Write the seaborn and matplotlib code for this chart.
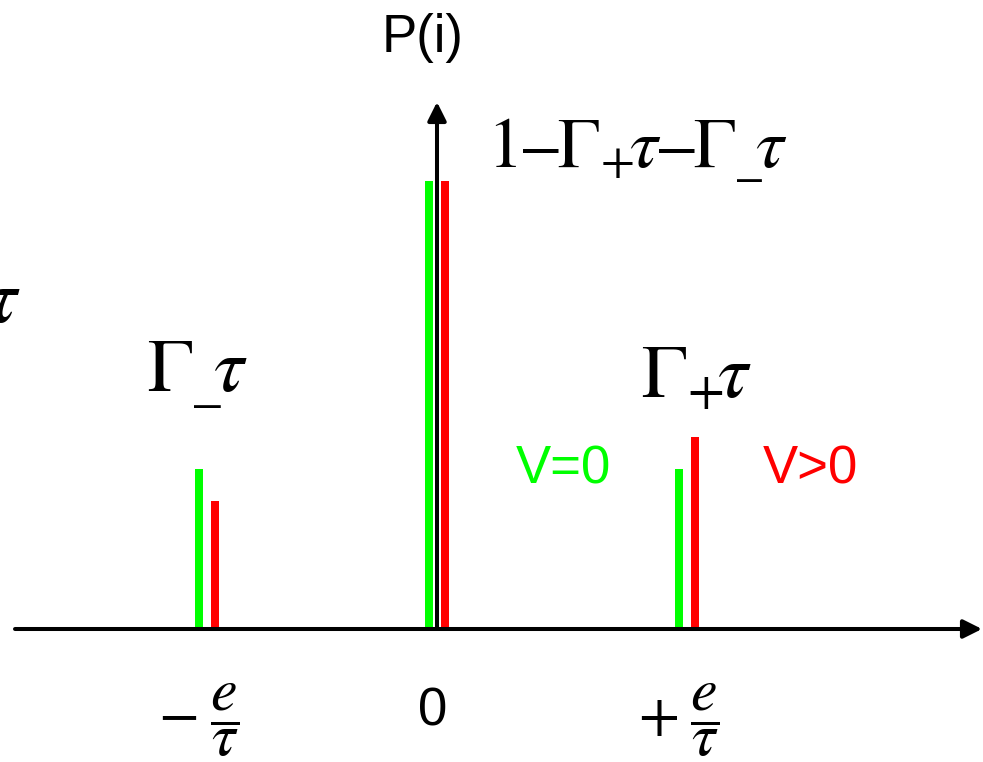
import matplotlib
matplotlib.use("Agg")
import matplotlib.pyplot as plt
import pandas as pd
import seaborn as sns

# Charge-transfer positions (in units of e/tau) and the probability of each outcome
positions = [-0.92, 0.0, 1.0]
tick_labels = [r"$-\;\dfrac{e}{\tau}$", "0", r"$+\;\dfrac{e}{\tau}$"]
p_v0 = [0.25, 0.70, 0.25]      # V = 0
p_vpos = [0.20, 0.70, 0.30]    # V > 0
series = ["V=0", "V>0"]
colors = {"V=0": "#00ff00", "V>0": "#ff0000"}

df = pd.DataFrame({
    "pos": positions * 2,
    "prob": p_v0 + p_vpos,
    "V": [series[0]] * 3 + [series[1]] * 3,
})

sns.set_theme(style="white")
plt.rcParams["mathtext.fontset"] = "stix"
plt.rcParams["font.family"] = ["Liberation Sans", "DejaVu Sans"]
plt.rcParams["text.color"] = "black"

W, H = 983, 762
fig = plt.figure(figsize=(W / 100, H / 100), dpi=100)
ax = fig.add_axes([0, 0, 1, 1])

sns.barplot(data=df, x="pos", y="prob", hue="V", native_scale=True,
            width=0.139, gap=0.5, palette=colors, saturation=1,
            errorbar=None, legend=False, linewidth=0, ax=ax)

# 250 px per unit of e/tau, 640 px per unit of probability
x0_px, y0_px = 437, 629
ax.set_xlim(-x0_px / 250, (W - x0_px) / 250)
ax.set_ylim(-(H - y0_px) / 640, y0_px / 640)
ax.set_axis_off()


def px(x, y):
    return (x - x0_px) / 250, (y0_px - y) / 640


arrow = dict(arrowstyle="-|>", lw=2.9, color="black", mutation_scale=28,
             shrinkA=0, shrinkB=0)
ax.annotate("", xy=px(982, y0_px), xytext=px(15, y0_px), arrowprops=arrow)
ax.annotate("", xy=(0, px(0, 102)[1]), xytext=(0, 0), arrowprops=arrow)

# Axis labels
ax.text(*px(382, 52), "P(i)", fontsize=38, ha="left", va="baseline")
for x, lab in zip(positions, tick_labels):
    if lab == "0":
        ax.text(x - 0.016, px(0, 725)[1], lab, fontsize=38, ha="center", va="baseline")
    else:
        ax.text(x - 0.035, px(0, 720)[1], lab, fontsize=43, ha="center", va="center")

# Probability annotations (serif, Times-like)
ax.text(*px(487, 167), "1\u2013$\\Gamma_{+}\\!\\tau$\u2013$\\Gamma_{\\_}\\!\\tau$",
        fontsize=51, family="STIXGeneral", ha="left", va="baseline")
ax.text(*px(147, 392), r"$\Gamma_{\_}\!\tau$", fontsize=55, ha="left", va="baseline")
ax.text(*px(641, 398), r"$\Gamma_{+}\!\tau$", fontsize=55, ha="left", va="baseline")
ax.text(*px(-14, 322), r"$\tau$", fontsize=55, ha="left", va="baseline")

# Series labels
ax.text(*px(516, 483), series[0], fontsize=38, color=colors["V=0"],
        ha="left", va="baseline")
ax.text(*px(763, 483), series[1], fontsize=38, color=colors["V>0"],
        ha="left", va="baseline")

fig.savefig("out.png", dpi=100)
